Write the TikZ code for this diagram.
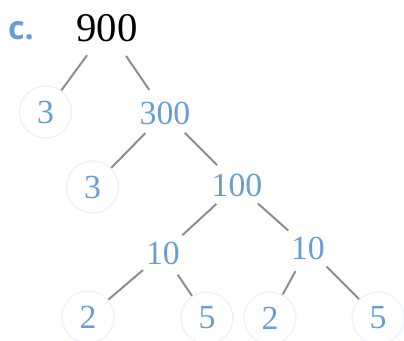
\documentclass[tikz,border=0pt]{standalone}
\usepackage{fontspec}
\setmainfont{Liberation Serif}
\setsansfont{Open Sans}
\usepackage{xcolor}
\usepackage{tikz}
\usetikzlibrary{positioning}
\definecolor{numblue}{RGB}{104, 158, 212}
\definecolor{branchgray}{RGB}{140, 140, 140}
\definecolor{ringblue}{RGB}{238, 243, 251}
\tikzset{
    factor/.style={
        circle,
        minimum size=1.3cm,
        inner sep=0pt,
        text=numblue,
        font=\fontsize{24}{24}\selectfont
    },
    prime/.style={
        factor,
        draw=ringblue,
        line width=1.1pt
    },
    branch/.style={
        draw=branchgray,
        line width=1.4pt
    }
}

\begin{document}
\begin{tikzpicture}[x=0.025cm, y=-0.025cm]
        \useasboundingbox (0,0) rectangle (404,341);
        % part label and the number being split
        \node[font=\sffamily\bfseries\fontsize{23}{23}\selectfont, text=numblue] (part) at (21,31) {c.};
        \node[factor, minimum size=1.65cm, text=black, font=\fontsize{29}{29}\selectfont] (top) at (107,28) {900};
        % first split
        \node[prime] (p1)   at (45.5,112) {3};
        \node[factor] (n300) at (165,113) {300};
        % second split
        \node[prime] (p2)   at (92.5,187) {3};
        \node[factor] (n100) at (237,185) {100};
        % third split
        \node[factor] (tenL) at (163,253) {10};
        \node[factor] (tenR) at (308,248) {10};
        % prime leaves
        \node[prime] (p3) at (88,317) {2};
        \node[prime] (p4) at (207,318) {5};
        \node[prime] (p5) at (270,318) {2};
        \node[prime] (p6) at (378,318) {5};

        \path[branch]
            (top)  edge (p1)
            (top)  edge (n300)
            (n300) edge (p2)
            (n300) edge (n100)
            (n100) edge (tenL)
            (n100) edge (tenR)
            (tenL) edge (p3)
            (tenL) edge (p4)
            (tenR) edge (p5)
            (tenR) edge (p6);
    \end{tikzpicture}
\end{document}
